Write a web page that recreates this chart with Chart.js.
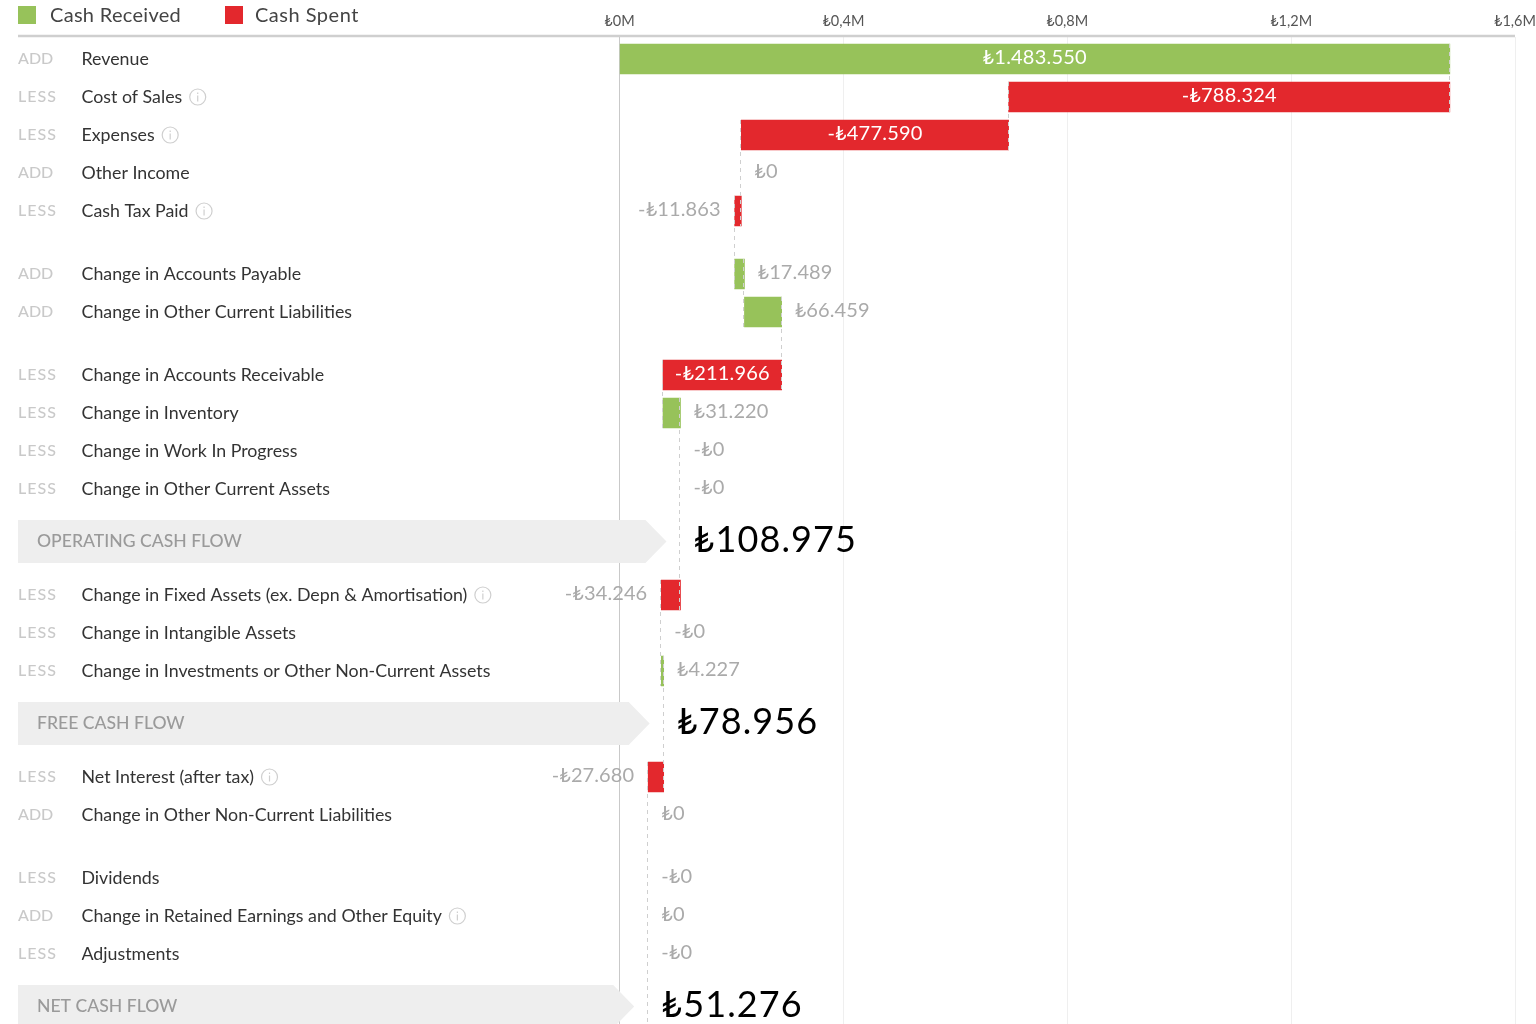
<!DOCTYPE html>
<html><head><meta charset="utf-8">
<style>html,body{margin:0;padding:0;background:#fff;overflow:hidden}canvas{display:block}</style>
<script src="https://cdn.jsdelivr.net/npm/chart.js@4"></script>
</head><body>
<canvas id="c" width="1536" height="1024"></canvas>
<script>
const categories = ["Revenue","Cost of Sales","Expenses","Other Income","Cash Tax Paid","Change in Accounts Payable","Change in Other Current Liabilities","Change in Accounts Receivable","Change in Inventory","Change in Work In Progress","Change in Other Current Assets","OPERATING CASH FLOW","Change in Fixed Assets (ex. Depn & Amortisation)","Change in Intangible Assets","Change in Investments or Other Non-Current Assets","FREE CASH FLOW","Net Interest (after tax)","Change in Other Non-Current Liabilities","Dividends","Change in Retained Earnings and Other Equity","Adjustments","NET CASH FLOW"];
const kinds = ["ADD","LESS","LESS","ADD","LESS","ADD","ADD","LESS","LESS","LESS","LESS","TOTAL","LESS","LESS","LESS","TOTAL","LESS","ADD","LESS","ADD","LESS","TOTAL"];
const values = [1483550,-788324,-477590,0,-11863,17489,66459,-211966,31220,0,0,108975,-34246,0,4227,78956,-27680,0,0,0,0,51276];
const withInfo = ["Cost of Sales","Expenses","Cash Tax Paid","Change in Fixed Assets (ex. Depn & Amortisation)","Net Interest (after tax)","Change in Retained Earnings and Other Equity"];
const xTicks = [0,400000,800000,1200000,1600000];

const GREEN="#97c25a", RED="#e3282d", FONT='Lato, "DejaVu Sans", sans-serif', NAME_SIZE=17.8;
// layout: vertical distance (px) from each row to the next
const rowGaps=[38,38,38,38,63,38,63,38,38,38,52,54,38,38,52,54,38,63,38,38,52];
const rowCenters=rowGaps.reduce((a,g)=>{a.push(a[a.length-1]+g);return a},[22]);

let run=0; const spans=values.map((v,i)=>{ if(kinds[i]==="TOTAL") return [run,run]; const s=[run,run+v]; run+=v; return s; });
const totalsAfter=spans.map(s=>s[1]);
const pick=test=>values.map((v,i)=>(kinds[i]!=="TOTAL"&&v!==0&&test(v))?{x:spans[i],y:rowCenters[i]}:null).filter(Boolean);
const money=(v,k)=>{const neg=v<0||(v===0&&k==="LESS");return (neg?"-":"")+"₺"+Math.abs(v).toString().replace(/\B(?=(\d{3})+$)/g,".")};

function text(ctx,s,x,y,font,color,align,ls){ctx.save();ctx.font=font;ctx.fillStyle=color;ctx.textAlign=align||"left";ctx.textBaseline="middle";ctx.letterSpacing=(ls||0)+"px";ctx.fillText(s,x,y);ctx.restore();}
const overlay={id:"overlay",
 beforeDatasetsDraw(chart){const {ctx,scales:{x,y}}=chart;
  ctx.save();ctx.strokeStyle="#cfcfcf";ctx.lineWidth=2.5;ctx.beginPath();ctx.moveTo(18,36);ctx.lineTo(x.right,36);ctx.stroke();ctx.restore();
  kinds.forEach((k,i)=>{const cy=y.getPixelForValue(rowCenters[i]);
   if(k==="TOTAL"){const tip=x.getPixelForValue(values[i])-14,t=cy-21,b=cy+22;
    ctx.fillStyle="#eeeeee";ctx.beginPath();ctx.moveTo(18,t);ctx.lineTo(tip-21,t);ctx.lineTo(tip,cy+.5);ctx.lineTo(tip-21,b);ctx.lineTo(18,b);ctx.closePath();ctx.fill();
    text(ctx,categories[i],37,cy+.5,'500 17.6px '+FONT,"#9a9a9a");
   } else {
    text(ctx,k,18,cy,'500 16px '+FONT,"#c9c9c9","left",k==="ADD"?0:1);
    if(withInfo.includes(categories[i])){ctx.save();ctx.font=NAME_SIZE+"px "+FONT;const w=ctx.measureText(categories[i]).width;ctx.restore();
     const ix=82+w+15;ctx.save();ctx.strokeStyle="#cfcfcf";ctx.lineWidth=1.2;ctx.beginPath();ctx.arc(ix,cy,8,0,Math.PI*2);ctx.stroke();ctx.beginPath();ctx.moveTo(ix,cy-1.5);ctx.lineTo(ix,cy+4.5);ctx.moveTo(ix,cy-4.5);ctx.lineTo(ix,cy-3);ctx.stroke();ctx.restore();}
   }
  });
  ctx.fillStyle=GREEN;ctx.fillRect(18,6,18,18);ctx.fillStyle=RED;ctx.fillRect(225,6,18,18);
  text(ctx,chart.data.datasets[0].label,50,15.5,'20px '+FONT,"#444",'left',0.3);
  text(ctx,chart.data.datasets[1].label,255,15.5,'20px '+FONT,"#444",'left',0.5);
 },
 afterDatasetsDraw(chart){const {ctx,scales:{x,y}}=chart;
  ctx.save();ctx.strokeStyle="#cfcfcf";ctx.lineWidth=1;ctx.setLineDash([4,4]);
  let i=0;
  while(i<totalsAfter.length){let j=i;while(j+1<totalsAfter.length&&totalsAfter[j+1]===totalsAfter[i])j++;
   const px=Math.round(x.getPixelForValue(totalsAfter[i]))-.5,top=y.getPixelForValue(rowCenters[i])+(kinds[i]==="TOTAL"?-21:-15);
   const bottom=j<rowCenters.length-1?y.getPixelForValue(rowCenters[j+1])+15:chart.height;
   ctx.beginPath();ctx.moveTo(px,top);ctx.lineTo(px,bottom);ctx.stroke();i=j+1;}
  ctx.restore();
  kinds.forEach((k,i)=>{const cy=y.getPixelForValue(rowCenters[i])-1,v=values[i],s=money(v,k);
   if(k==="TOTAL"){text(ctx,s,x.getPixelForValue(v)+13,cy,'36px '+FONT,"#000","left",1.1);return;}
   const a=x.getPixelForValue(Math.min(...spans[i])),b=x.getPixelForValue(Math.max(...spans[i]));
   if(b-a>100) text(ctx,s,(a+b)/2,cy,'20px '+FONT,"#fff","center",0.2);
   else if(v<0) text(ctx,s,a-14,cy,'20px '+FONT,"#aaaaaa","right",0.1);
   else text(ctx,s,b+13,cy,'20px '+FONT,"#aaaaaa","left",0.1);
  });
 }};
new Chart(document.getElementById("c"),{type:"bar",plugins:[overlay],
 data:{datasets:[
  {label:"Cash Received",data:pick(v=>v>0),backgroundColor:GREEN,barThickness:30,grouped:false},
  {label:"Cash Spent",data:pick(v=>v<0),backgroundColor:RED,barThickness:30,grouped:false}]},
 options:{indexAxis:"y",responsive:false,animation:false,devicePixelRatio:1,
  layout:{padding:{left:81.5,right:21,top:0,bottom:0}},
  plugins:{legend:{display:false},tooltip:{enabled:false}},
  scales:{
   x:{type:"linear",position:"top",min:0,max:1600000,
    afterBuildTicks:s=>{s.ticks=xTicks.map(value=>({value}))},
    afterFit:s=>{s.height=37;s.paddingLeft=0;s.paddingRight=0},
    border:{display:false},
    grid:{drawTicks:false,tickLength:0,color:c=>c.tick&&c.tick.value===0?"#c9c9c9":"#efefef",lineWidth:1},
    ticks:{autoSkip:false,maxRotation:0,padding:7,color:"#555",font:{family:FONT,size:14.5},callback:v=>"₺"+String(v/1e6).replace(".",",")+"M"}},
   y:{type:"linear",reverse:true,offset:false,min:0,max:987,
    afterBuildTicks:s=>{s.ticks=rowCenters.map(value=>({value}))},
    afterFit:s=>{s.width=538;s.paddingTop=0;s.paddingBottom=0},
    border:{display:false},grid:{display:false,offset:false},
    ticks:{autoSkip:false,crossAlign:"far",padding:0,color:"#333",font:{family:FONT,size:NAME_SIZE},
     callback:(v,i)=>kinds[i]==="TOTAL"?"":categories[i]}}
  }}});
</script>
</body></html>
